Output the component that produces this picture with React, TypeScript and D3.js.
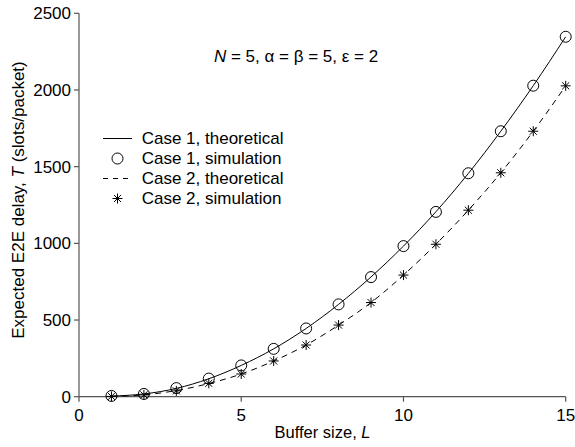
import React from "react";
import * as d3 from "d3";

const bufferSizes = [1, 2, 3, 4, 5, 6, 7, 8, 9, 10, 11, 12, 13, 14, 15];
const case1Theory = [4, 18, 54, 117, 204, 312, 445, 602, 781, 982, 1206, 1456, 1731, 2028, 2347];
const case1Sim = [5, 18, 56, 118, 204, 312, 445, 602, 780, 982, 1205, 1457, 1731, 2028, 2347];
const case2Theory = [2, 12, 40, 86, 148, 233, 337, 467, 614, 793, 994, 1216, 1460, 1731, 2027];
const case2Sim = [2, 12, 38, 87, 148, 233, 337, 467, 614, 793, 994, 1216, 1460, 1731, 2027];
const xTicks = [0, 5, 10, 15];
const yTicks = [0, 500, 1000, 1500, 2000, 2500];
const legendLabels = ["Case 1, theoretical", "Case 1, simulation", "Case 2, theoretical", "Case 2, simulation"];

const W = 575, H = 447;
const FONT = "'Liberation Sans', Arial, sans-serif";
const FS = 17;
const AXIS = "#555";

function Star({ cx, cy, r }: { cx: number; cy: number; r: number }) {
  const d = r * Math.SQRT1_2;
  return (
    <g stroke="#000" strokeWidth={1}>
      <line x1={cx - r} y1={cy} x2={cx + r} y2={cy} />
      <line x1={cx} y1={cy - r} x2={cx} y2={cy + r} />
      <line x1={cx - d} y1={cy - d} x2={cx + d} y2={cy + d} />
      <line x1={cx - d} y1={cy + d} x2={cx + d} y2={cy - d} />
    </g>
  );
}

export default function App() {
  const x = d3.scaleLinear().domain([0, 15]).range([79, 565.7]);
  const y = d3.scaleLinear().domain([0, 2500]).range([396.7, 13.3]);
  const line = d3
    .line<[number, number]>()
    .x((d) => x(d[0]))
    .y((d) => y(d[1]))
    .curve(d3.curveMonotoneX);
  const c1: [number, number][] = bufferSizes.map((l, i) => [l, case1Theory[i]]);
  const c2: [number, number][] = bufferSizes.map((l, i) => [l, case2Theory[i]]);
  const y0 = y(0);
  const x0 = x(0);

  const legX = 103, legX2 = 132, legText = 141.7;
  const legRows = [138.5, 158.5, 178.5, 198.5];

  return (
    <svg
      width={W}
      height={H}
      style={{ position: "absolute", left: 0, top: 0, background: "#fff" }}
      fontFamily={FONT}
      fontSize={FS}
    >
      <rect width={W} height={H} fill="#fff" />
      {/* axes */}
      <line x1={x0} y1={y(2500)} x2={x0} y2={y0} stroke={AXIS} strokeWidth={1.2} />
      <line x1={x0} y1={y0} x2={x(15)} y2={y0} stroke={AXIS} strokeWidth={1.2} />
      {yTicks.map((t) => (
        <g key={"y" + t}>
          <line x1={x0 - 5} x2={x0} y1={y(t)} y2={y(t)} stroke={AXIS} strokeWidth={1.2} />
          <text x={x0 - 8} y={y(t)} dy="0.35em" textAnchor="end" fill="#000">
            {t}
          </text>
        </g>
      ))}
      {xTicks.map((t) => (
        <g key={"x" + t}>
          <line x1={x(t)} x2={x(t)} y1={y0} y2={y0 + 5} stroke={AXIS} strokeWidth={1.2} />
          <text x={x(t)} y={421} textAnchor="middle" fill="#000">
            {t}
          </text>
        </g>
      ))}
      {/* axis titles */}
      <text x={322.5} y={438} textAnchor="middle" fill="#000" fontSize={16.5}>
        Buffer size, <tspan fontStyle="italic">L</tspan>
      </text>
      <text
        transform="translate(24,200) rotate(-90)"
        textAnchor="middle"
        fill="#000"
        fontSize={17}
      >
        Expected E2E delay, <tspan fontStyle="italic">T</tspan> (slots/packet)
      </text>
      {/* annotation */}
      <text x={296} y={62} textAnchor="middle" fill="#000" fontSize={17}>
        <tspan fontStyle="italic">N</tspan> = 5, α = β = 5, ε = 2
      </text>
      {/* lines */}
      <path d={line(c1) || ""} fill="none" stroke="#000" strokeWidth={1} />
      <path d={line(c2) || ""} fill="none" stroke="#000" strokeWidth={1} strokeDasharray="6,5" />
      {/* markers */}
      {bufferSizes.map((l, i) => (
        <circle key={"c" + l} cx={x(l)} cy={y(case1Sim[i])} r={5.5} fill="none" stroke="#000" strokeWidth={1} />
      ))}
      {bufferSizes.map((l, i) => (
        <Star key={"s" + l} cx={x(l)} cy={y(case2Sim[i])} r={5} />
      ))}
      {/* legend */}
      <line x1={legX} x2={legX2} y1={legRows[0]} y2={legRows[0]} stroke="#000" strokeWidth={1} />
      <circle cx={(legX + legX2) / 2} cy={legRows[1]} r={5.5} fill="none" stroke="#000" strokeWidth={1} />
      <line x1={legX} x2={legX2} y1={legRows[2]} y2={legRows[2]} stroke="#000" strokeWidth={1} strokeDasharray="5,5" />
      <Star cx={(legX + legX2) / 2} cy={legRows[3]} r={5} />
      {legendLabels.map((t, i) => (
        <text key={t} x={legText} y={legRows[i]} dy="0.35em" fill="#000" fontSize={17}>
          {t}
        </text>
      ))}
    </svg>
  );
}
